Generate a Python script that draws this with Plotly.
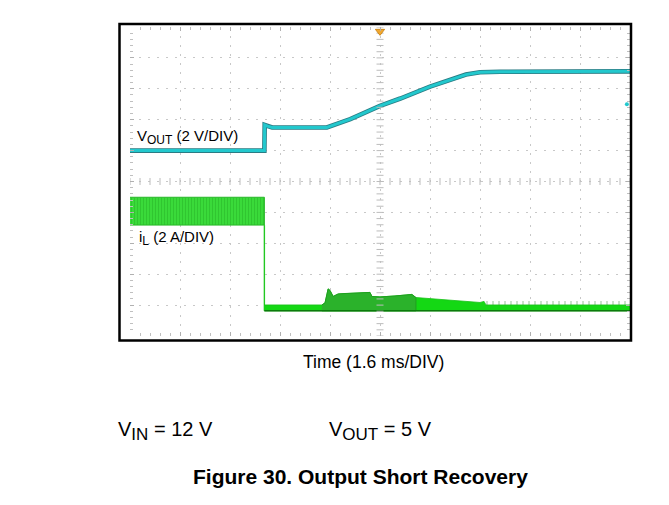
import numpy as np
import plotly.graph_objects as go

# ---- scope settings -------------------------------------------------------
T_PER_DIV = 1.6          # ms / div
V_PER_DIV = 2.0          # V / div  (VOUT channel)
A_PER_DIV = 2.0          # A / div  (inductor current channel)
VOUT_GND_DIV = 6.0       # VOUT ground marker position (divisions from bottom)
IL_GND_DIV = 0.94        # iL ground marker position

# ---- VOUT trace (ms, V) ---------------------------------------------------
t_vout = [0.0, 4.30, 4.31, 4.40, 4.55, 6.30, 6.55, 7.05, 8.00, 8.65, 9.60,
          10.25, 10.75, 11.20, 11.85, 16.0]
v_vout = [0.0, 0.0, 1.66, 1.58, 1.50, 1.50, 1.68, 2.04, 2.90, 3.37, 4.14,
          4.60, 4.92, 5.07, 5.10, 5.13]

# ---- inductor current: hiccup region envelope (ms, A) ---------------------
t_hiccup = [0.0, 4.30]
il_hiccup_hi = [7.1, 7.1]
il_hiccup_lo = [5.3, 5.3]

# ---- inductor current after the short is removed (ms, A) ------------------
t_rec = [4.30, 6.14, 6.24, 6.34, 6.40, 6.50, 6.66, 6.88, 7.68, 7.74, 8.00,
         8.48, 9.02, 9.15, 10.14, 11.20, 11.33, 11.39, 16.0]
il_rec_hi = [0.13, 0.13, 0.26, 1.17, 1.07, 0.68, 0.84, 0.87, 0.94, 0.68, 0.65,
             0.71, 0.81, 0.61, 0.45, 0.29, 0.36, 0.13, 0.13]
il_rec_lo = -0.25
t_rec_dark = (6.14, 9.15)          # darker-shaded portion of the recovery burst
t_pulse = (11.39, 16.0)            # light-load pulse region
il_pulse_top = 0.38

# ---- geometry ---------------------------------------------------------------
W, H = 669, 505
ML, MR, MT, MB = 130, 39, 27, 169
PW, PH = W - ML - MR, H - MT - MB


def px_x(px):
    return (px - ML) / PW


def px_y(py):
    return (H - MB - py) / PH


def vdiv(v):
    return [VOUT_GND_DIV + x / V_PER_DIV for x in v]


def idiv(a):
    return [IL_GND_DIV + x / A_PER_DIV for x in a]


CYAN = "#22c8cd"
CYAN_DARK = "#2a7c84"
GREEN = "#22d622"
GREEN_DARK = "#1a9e1a"
GREEN_EDGE = "#0c7a0c"

fig = go.Figure()

# hiccup current band
hx = t_hiccup + t_hiccup[::-1]
hy = idiv(il_hiccup_hi) + idiv(il_hiccup_lo[::-1])
fig.add_trace(go.Scatter(
    x=hx, y=hy, fill="toself", mode="lines",
    line=dict(color="#28b828", width=1),
    fillcolor=GREEN,
    fillpattern=dict(shape="|", fgcolor="#1fa51f", bgcolor="#3ada3a",
                     size=3, solidity=0.25),
    hoverinfo="skip", showlegend=False))

# falling edge when the short is released
fig.add_trace(go.Scatter(
    x=[t_hiccup[-1], t_hiccup[-1]],
    y=idiv([il_hiccup_lo[-1], il_rec_lo]),
    mode="lines", line=dict(color="#22c822", width=1.4),
    hoverinfo="skip", showlegend=False))

# recovery current band
rx = t_rec + t_rec[::-1]
ry = idiv(il_rec_hi) + idiv([il_rec_lo] * len(t_rec))
fig.add_trace(go.Scatter(
    x=rx, y=ry, fill="toself", mode="lines",
    line=dict(color="#18c018", width=0.8), fillcolor="#14d814",
    hoverinfo="skip", showlegend=False))

# darker shaded part of the recovery burst
dmask = [(t_rec_dark[0] <= t <= t_rec_dark[1]) for t in t_rec]
dx = [t for t, m in zip(t_rec, dmask) if m]
dy = [a for a, m in zip(il_rec_hi, dmask) if m]
fig.add_trace(go.Scatter(
    x=dx + dx[::-1], y=idiv(dy) + idiv([il_rec_lo] * len(dx)),
    fill="toself", mode="lines", line=dict(color="#1f9f1f", width=1),
    fillcolor="#2bb22b", hoverinfo="skip", showlegend=False))

# short switching pulses at light load
fig.add_trace(go.Scatter(
    x=[t_pulse[0], t_pulse[1], t_pulse[1], t_pulse[0]],
    y=idiv([il_rec_hi[-1], il_rec_hi[-1], il_pulse_top, il_pulse_top]),
    fill="toself", mode="lines", line=dict(width=0),
    fillcolor="rgba(0,0,0,0)",
    fillpattern=dict(shape="|", fgcolor="#3a8a3a", bgcolor="rgba(0,0,0,0)",
                     size=6, solidity=0.18),
    hoverinfo="skip", showlegend=False))

# bottom edge of the current trace
fig.add_trace(go.Scatter(
    x=[t_rec[0], t_rec[-1]], y=idiv([il_rec_lo, il_rec_lo]),
    mode="lines", line=dict(color=GREEN_EDGE, width=1.5),
    hoverinfo="skip", showlegend=False))

# VOUT: dark halo then cyan trace
fig.add_trace(go.Scatter(
    x=t_vout, y=vdiv(v_vout), mode="lines",
    line=dict(color=CYAN_DARK, width=4.6), hoverinfo="skip", showlegend=False))
fig.add_trace(go.Scatter(
    x=t_vout, y=vdiv(v_vout), mode="lines",
    line=dict(color=CYAN, width=3.0), hoverinfo="skip", showlegend=False))

# graticule centre-line ticks
yt = np.round(np.arange(0, 10.001, 0.2), 3)
xt = np.round(np.arange(0, 16.001, 0.32), 3)
fig.add_trace(go.Scatter(
    x=[8.0] * len(yt), y=yt, mode="markers",
    marker=dict(symbol="line-ew", size=5, line=dict(color="#bcbcbc", width=1)),
    hoverinfo="skip", showlegend=False))
fig.add_trace(go.Scatter(
    x=xt, y=[5.0] * len(xt), mode="markers",
    marker=dict(symbol="line-ns", size=5, line=dict(color="#bcbcbc", width=1)),
    hoverinfo="skip", showlegend=False))

# channel / trigger markers
fig.add_trace(go.Scatter(
    x=[-0.17], y=[VOUT_GND_DIV], mode="markers", cliponaxis=False,
    marker=dict(symbol="triangle-right", size=8, color=CYAN),
    hoverinfo="skip", showlegend=False))
fig.add_trace(go.Scatter(
    x=[-0.17], y=[IL_GND_DIV], mode="markers+text", cliponaxis=False,
    marker=dict(symbol="circle-open", size=8, color="#3cb83c",
                line=dict(width=1)),
    text=["4"], textposition="middle center",
    textfont=dict(size=6, color="#3cb83c", family="Arial, Liberation Sans"),
    hoverinfo="skip", showlegend=False))
fig.add_trace(go.Scatter(
    x=[8.0], y=[9.86], mode="markers", cliponaxis=False,
    marker=dict(symbol="triangle-down", size=8, color="#f0a830",
                line=dict(color="#d08818", width=1)),
    hoverinfo="skip", showlegend=False))
fig.add_trace(go.Scatter(
    x=[15.9], y=[7.5], mode="markers", cliponaxis=False,
    marker=dict(symbol="circle", size=4, color=CYAN),
    hoverinfo="skip", showlegend=False))

GRID = "#c8c8c8"
axis_common = dict(
    showticklabels=False, zeroline=False, showline=False,
    showgrid=True, gridcolor=GRID, gridwidth=1, griddash="2px,7px",
    ticks="inside", ticklen=4, tickcolor="#b0b0b0", mirror="ticks",
    fixedrange=True)

fig.update_xaxes(range=[0, 16], dtick=T_PER_DIV, tick0=0,
                 minor=dict(dtick=T_PER_DIV / 5, ticks="inside", ticklen=3,
                            tickcolor="#c0c0c0", showgrid=False),
                 **axis_common)
fig.update_yaxes(range=[0, 10], dtick=1, tick0=0,
                 minor=dict(dtick=0.2, ticks="inside", ticklen=3,
                            tickcolor="#c0c0c0", showgrid=False),
                 **axis_common)

# outer black frame of the scope screen
fig.add_shape(type="rect", xref="paper", yref="paper",
              x0=px_x(119.5), x1=px_x(631), y0=px_y(340.5), y1=px_y(24),
              line=dict(color="black", width=2.5), fillcolor="rgba(0,0,0,0)",
              layer="above")

FONT = "Arial, Liberation Sans, sans-serif"
ann = [
    dict(text="V<sub><span style='font-size:12px'>OUT</span></sub> (2 V/DIV)",
         x=px_x(135), y=px_y(137), xanchor="left", yanchor="middle",
         font=dict(size=15, family=FONT, color="black")),
    dict(text="i<sub><span style='font-size:12px'>L</span></sub> (2 A/DIV)",
         x=px_x(137), y=px_y(238), xanchor="left", yanchor="middle",
         font=dict(size=15, family=FONT, color="black")),
    dict(text="Time (1.6 ms/DIV)",
         x=px_x(373), y=px_y(362), xanchor="center", yanchor="middle",
         font=dict(size=17.5, family=FONT, color="black")),
    dict(text="V<sub><span style='font-size:17px'>IN</span></sub> = 12 V",
         x=px_x(116), y=px_y(431), xanchor="left", yanchor="middle",
         font=dict(size=20, family=FONT, color="black")),
    dict(text="V<sub><span style='font-size:17px'>OUT</span></sub> = 5 V",
         x=px_x(327), y=px_y(431), xanchor="left", yanchor="middle",
         font=dict(size=20, family=FONT, color="black")),
    dict(text="<b>Figure 30. Output Short Recovery</b>",
         x=px_x(360.5), y=px_y(476), xanchor="center", yanchor="middle",
         font=dict(size=21, family=FONT, color="black")),
]
for a in ann:
    fig.add_annotation(xref="paper", yref="paper", showarrow=False, **a)

fig.update_layout(
    width=W, height=H,
    margin=dict(l=ML, r=MR, t=MT, b=MB, pad=0),
    paper_bgcolor="white", plot_bgcolor="white",
    showlegend=False)

fig.write_html("out.html", config=dict(displayModeBar=False))
